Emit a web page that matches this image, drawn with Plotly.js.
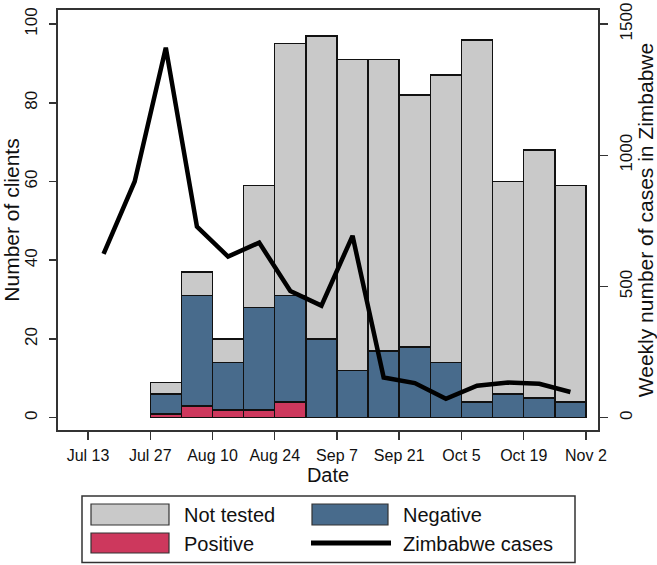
<!DOCTYPE html>
<html>
<head>
<meta charset="utf-8">
<script src="https://cdn.plot.ly/plotly-3.0.1.min.js"></script>
<style>
  html, body { margin: 0; padding: 0; background: #fff; }
  #chart { width: 657px; height: 565px; }
</style>
</head>
<body>
<div id="chart"></div>
<script>
// Weekly data, weeks start on Monday (2020)
const caseWeeks = ['2020-07-13', '2020-07-20', '2020-07-27', '2020-08-03', '2020-08-10', '2020-08-17',
  '2020-08-24', '2020-08-31', '2020-09-07', '2020-09-14', '2020-09-21', '2020-09-28',
  '2020-10-05', '2020-10-12', '2020-10-19', '2020-10-26'];
const zimbabweCases = [624, 900, 1410, 728, 614, 667, 483, 427, 693, 153, 132, 72, 122, 134, 129, 98];

const clientWeeks = caseWeeks.slice(2);
const positive  = [1, 3, 2, 2, 4, 0, 0, 0, 0, 0, 0, 0, 0, 0];
const negative  = [5, 28, 12, 26, 27, 20, 12, 17, 18, 14, 4, 6, 5, 4];
const notTested = [3, 6, 6, 31, 64, 77, 79, 74, 64, 73, 92, 54, 63, 55];

const xTickVals = ['2020-07-13', '2020-07-27', '2020-08-10', '2020-08-24', '2020-09-07',
  '2020-09-21', '2020-10-05', '2020-10-19', '2020-11-02'];
const xTickText = ['Jul 13', 'Jul 27', 'Aug 10', 'Aug 24', 'Sep 7', 'Sep 21', 'Oct 5', 'Oct 19', 'Nov 2'];

const DAY = 86400000;
const WEEK = 7 * DAY;
// bars and line points sit in the middle of each week
const mid = d => new Date(new Date(d + 'T00:00:00Z').getTime() + 3.5 * DAY).toISOString();

const grey = '#c9c9c9', blue = '#486b8c', red = '#cd385d';
const font = 'Arial, "Liberation Sans", sans-serif';
const ink = '#111';
const frame = '#333';

const barLine = { color: '#111', width: 1.5 };
const traces = [
  { x: clientWeeks.map(mid), y: positive, type: 'bar', width: WEEK, marker: { color: red, line: barLine }, name: 'Positive' },
  { x: clientWeeks.map(mid), y: negative, type: 'bar', width: WEEK, marker: { color: blue, line: barLine }, name: 'Negative' },
  { x: clientWeeks.map(mid), y: notTested, type: 'bar', width: WEEK, marker: { color: grey, line: barLine }, name: 'Not tested' },
  { x: caseWeeks.map(mid), y: zimbabweCases, type: 'scatter', mode: 'lines', yaxis: 'y2',
    line: { color: '#000', width: 4.5 }, name: 'Zimbabwe cases' },
];

// plot area in pixels: x 58..598, y 10..430
const L = 58, R = 598, T = 10, B = 430;
const px = x => (x - L) / (R - L);
const py = y => (B - y) / (B - T);

const rect = (x0, y0, x1, y1, fill, lw) => ({
  type: 'rect', xref: 'paper', yref: 'paper',
  x0: px(x0), x1: px(x1), y0: py(y0), y1: py(y1),
  fillcolor: fill, line: { color: frame, width: lw },
});
const label = (x, y, text) => ({
  xref: 'paper', yref: 'paper', x: px(x), y: py(y), text: text, showarrow: false,
  xanchor: 'left', yanchor: 'middle', font: { family: font, size: 20, color: ink },
});

const shapes = [
  rect(82, 496, 575, 562.5, 'rgba(0,0,0,0)', 1.5),
  rect(91, 504, 169, 525, grey, 1.2),
  rect(91, 533, 169, 553, red, 1.2),
  rect(312, 504, 388, 525, blue, 1.2),
  { type: 'line', xref: 'paper', yref: 'paper', x0: px(311), x1: px(391), y0: py(543), y1: py(543),
    line: { color: '#000', width: 5 } },
];
const annotations = [
  label(182, 515, 'Not tested'),
  label(182, 544, 'Positive'),
  label(401, 515, 'Negative'),
  label(401, 544, 'Zimbabwe cases'),
];

const axisCommon = {
  showgrid: false, zeroline: false, showline: true, linecolor: frame, linewidth: 2,
  ticks: 'outside', tickcolor: frame, tickwidth: 1.5,
  tickfont: { family: font, size: 16, color: ink },
};

Plotly.newPlot('chart', traces, {
  width: 657, height: 565,
  margin: { l: L, r: 657 - R, t: T, b: 565 - B },
  paper_bgcolor: '#fff', plot_bgcolor: '#fff',
  barmode: 'stack',
  showlegend: false,
  font: { family: font, color: ink },
  xaxis: Object.assign({}, axisCommon, {
    type: 'date', range: ['2020-07-06 06:00', '2020-11-04 17:00'],
    tickvals: xTickVals, ticktext: xTickText, ticklen: 8, mirror: true, ticklabelstandoff: 2,
    title: { text: 'Date', font: { family: font, size: 20, color: ink }, standoff: 3 },
  }),
  yaxis: Object.assign({}, axisCommon, {
    range: [-3.12, 103.56], tickvals: [0, 20, 40, 60, 80, 100], tickangle: -90, ticklen: 7,
    tickfont: { family: font, size: 17, color: ink }, ticklabelstandoff: 5,
    title: { text: 'Number of clients', font: { family: font, size: 21, color: ink }, standoff: 4 },
  }),
  yaxis2: Object.assign({}, axisCommon, {
    overlaying: 'y', side: 'right',
    range: [-46.8, 1553.4], tickvals: [0, 500, 1000, 1500], tickangle: -90, ticklen: 8,
    tickfont: { family: font, size: 17, color: ink }, ticklabelstandoff: 4,
    title: { text: 'Weekly number of cases in Zimbabwe', font: { family: font, size: 21, color: ink }, standoff: 3 },
  }),
  shapes: shapes,
  annotations: annotations,
}, { displayModeBar: false, staticPlot: true });
</script>
</body>
</html>
